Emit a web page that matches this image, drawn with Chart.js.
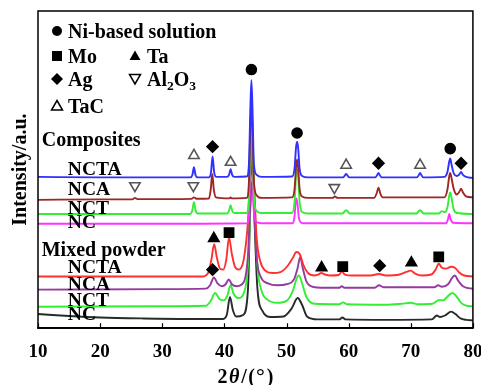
<!DOCTYPE html>
<html><head><meta charset="utf-8">
<script src="https://cdn.jsdelivr.net/npm/chart.js@4.4.0/dist/chart.umd.min.js"></script>
<style>html,body{margin:0;padding:0;background:#fff}#wrap{width:481px;height:385px}</style>
</head><body><div id="wrap"><canvas id="c" width="481" height="385"></canvas></div>
<script>
// ---- data (2theta in degrees, intensity in a.u. with stacking offsets) ----
const xTicks = [10,20,30,40,50,60,70,80];

const compNCTA = [[10,155],[20,154.5],[30,154.5],[34.5,154.5],[34.85,157],[35.1,165],[35.35,157],[35.7,154.5],[37.5,154.5],[37.85,160],[38.1,176],[38.35,160],[38.7,155],[40.4,155],[40.75,157],[41.0,163],[41.25,157],[41.6,155],[43.6,155.5],[43.95,168],[44.18,225],[44.35,254],[44.52,225],[44.75,168],[45.2,157],[46,155],[50.9,155.5],[51.3,164],[51.53,185],[51.7,191],[51.87,185],[52.1,164],[52.5,156],[53.5,154.5],[59.1,154.5],[59.4,156.5],[59.6,158],[59.8,156.5],[60.1,154.5],[64.3,154.5],[64.6,157],[64.8,159],[65.0,157],[65.3,154.5],[71.0,154.5],[71.3,157],[71.5,159],[71.7,157],[72.0,154.5],[75.4,155],[75.9,160],[76.2,171],[76.35,174],[76.55,168],[76.9,159],[77.4,156],[77.8,157.5],[78.1,160],[78.4,157],[78.9,155],[80,154]];
const compNCA = [[10,131.5],[20,132],[25.2,132],[25.6,133.5],[26.0,132.2],[34.7,132.5],[35.1,134],[35.5,132.6],[37.5,132.8],[37.8,142],[38.05,158],[38.3,142],[38.65,134],[40.8,133],[41.0,134],[41.2,133],[43.6,133.5],[43.95,150],[44.18,205],[44.35,229],[44.52,205],[44.75,150],[45.2,136],[46,133.5],[50.9,134],[51.3,143],[51.53,165],[51.7,173],[51.87,165],[52.1,143],[52.5,135],[53.5,133.5],[57.4,133.5],[57.8,135],[58.2,133.5],[64.1,133.5],[64.5,138],[64.8,144],[65.1,138],[65.5,134],[75.4,134],[75.9,142],[76.2,156],[76.35,159],[76.55,154],[76.9,143],[77.4,137],[77.8,139.5],[78.1,143],[78.4,139],[78.9,135],[80,134]];
const compNCT = [[10,117],[20,117],[34.5,117],[34.85,121],[35.1,129],[35.35,121],[35.7,117.5],[40.4,117.5],[40.75,120.5],[41.0,126],[41.25,120.5],[41.6,118],[43.6,118],[43.95,135],[44.18,190],[44.35,211],[44.52,190],[44.75,135],[45.2,120],[46,118],[50.9,118],[51.3,130],[51.53,156],[51.7,163],[51.87,156],[52.1,130],[52.5,119],[53.5,117.5],[59.0,117.5],[59.35,119.5],[59.6,121],[59.85,119.5],[60.2,117.5],[70.9,117.5],[71.25,119.5],[71.5,121],[71.75,119.5],[72.1,117.5],[74.5,117.5],[75.0,120],[75.5,119],[75.9,124],[76.2,136],[76.35,139],[76.55,134],[76.9,122],[77.5,118],[80,117]];
const compNC = [[10,107],[30,107],[43.7,107.5],[44.0,125],[44.17,175],[44.3,196],[44.47,175],[44.7,125],[45.1,109],[46,107.5],[51.0,107.5],[51.3,115],[51.48,130],[51.6,133],[51.77,127],[52.0,113],[52.4,108],[53,107.5],[75.7,107.5],[76.0,112],[76.2,117],[76.4,112],[76.8,108],[80,107.5]];

const mixNCTA = [[10,53],[20,53],[30,53],[36.5,53],[37.4,57],[37.9,70],[38.35,86],[38.8,72],[39.3,61],[39.8,60],[40.3,70],[40.75,93],[41.2,76],[41.7,63],[42.3,60],[43.1,70],[43.8,110],[44.2,165],[44.45,186],[44.75,150],[45.2,92],[45.8,68],[46.6,59],[47.8,56.5],[49,57.5],[50.2,64],[51.0,72],[51.6,78],[52.2,75],[52.7,65],[53.4,57],[54.5,54],[55.1,55],[55.6,56.5],[56.2,55],[57,54],[58.4,54.5],[58.9,58],[59.4,55],[60.5,54],[63.5,54],[64.9,55.5],[66,54],[68.2,55],[69.4,58],[70.0,59],[70.7,56],[71.8,54],[73.3,55],[74.0,60],[74.5,66],[75.0,62],[75.7,61],[76.5,63],[77.1,62],[77.8,57],[78.6,54],[80,53]];
const mixNCA = [[10,39.5],[30,40],[37,40.5],[37.7,44],[38.3,52],[38.9,46],[39.6,43],[40.2,45],[40.7,50],[41.2,45],[42,43],[43.1,47],[43.8,75],[44.2,130],[44.45,150],[44.75,125],[45.2,72],[45.9,52],[47,46],[48.5,44],[50,45],[51.2,50],[51.8,62],[52.2,73],[52.6,62],[53.2,48],[54.2,42.5],[56,41.5],[58.5,41.5],[58.9,43],[59.3,41.5],[64.2,41.5],[64.9,44],[65.6,42],[73.8,42],[74.4,44],[75,42.5],[76,45],[76.7,52],[77.1,54],[77.6,49],[78.4,43],[79.3,41],[80,40.5]];
const mixNCT = [[10,22],[30,22.5],[37,23],[37.8,28],[38.5,36],[39.2,30],[39.9,28.5],[40.5,34],[41.0,44],[41.5,35],[42.2,31],[43.2,37],[43.8,65],[44.3,140],[44.55,160],[44.85,130],[45.3,65],[46,38],[47,29],[48.5,26],[50,28],[51,38],[51.7,52],[52.0,54],[52.5,46],[53.2,32],[54.5,25],[58.5,24.5],[59.1,26.5],[59.7,24.5],[66,24],[68.5,25],[70,26],[71.2,24.5],[73.5,25],[74.6,29],[75.2,28.5],[76.0,33],[76.7,36],[77.3,33],[78.1,26],[79,23],[80,22.5]];
const mixNC = [[10,14.5],[15,12.5],[20,11],[27,10],[34,9.5],[39.8,9.5],[40.4,14],[40.9,32],[41.35,19],[41.9,12],[43,13.5],[43.8,40],[44.25,150],[44.5,178],[44.8,120],[45.3,42],[46.1,18],[47.5,11.5],[49.5,12],[50.8,20],[51.8,31],[52.5,24],[53.3,12],[55,9],[58.5,9],[59.0,11],[59.5,9],[66,8.5],[73.4,9],[74.2,13],[74.7,11.5],[75.5,13],[76.5,17],[77.2,14.5],[78,10],[79,8.5],[80,8]];

// phase marker positions [2theta, a.u.]
const niMarks = [[44.35,265],[51.7,200],[76.35,184]];
const agMarks = [[38.1,186],[64.8,169],[78.1,169],[38.1,60],[65.0,64]];
const tacMarks = [[35.1,177],[41.0,170],[59.6,167],[71.5,167]];
const al2o3Marks = [[25.6,146],[35.0,146],[57.7,144]];
const moMarks = [[40.75,98],[59.05,63],[74.5,73]];
const taMarks = [[38.3,92],[55.65,62],[70.1,67]];

// text annotations
const groupTitles = ['Composites','Mixed powder'];
const groupTitleY = [193, 81];
const curveNames = ['NCTA','NCA','NCT','NC','NCTA','NCA','NCT','NC'];
const curveNameY = [164, 143, 124, 109, 63, 46, 30, 15];
const legendNames = ['Ni-based solution','Mo','Ta','Ag','Al2O3','TaC'];

const SERIF = '"Liberation Serif","Times New Roman",serif';

function lineDs(data, color, order){
  return {type:'line', data, borderColor:color, borderWidth:1.9, pointRadius:0, fill:false,
          cubicInterpolationMode:'monotone', order};
}
function markDs(data, style, fill, stroke, radius, rot){
  return {type:'scatter', data, pointStyle:style, pointRadius:radius, pointHoverRadius:radius,
          pointBackgroundColor:fill, pointBorderColor:stroke, pointBorderWidth:1.6,
          pointRotation:rot||0, showLine:false, order:-1};
}

function drawSym(ctx, kind, x, y, color){
  ctx.save();
  ctx.lineWidth = 1.5; ctx.strokeStyle = color; ctx.fillStyle = color;
  ctx.beginPath();
  if (kind==='circle'){ ctx.arc(x,y,5,0,Math.PI*2); ctx.fill(); }
  else if (kind==='rect'){ ctx.rect(x-5,y-5,10,10); ctx.fill(); }
  else if (kind==='triangle'){ ctx.moveTo(x,y-5.5); ctx.lineTo(x+5.5,y+4); ctx.lineTo(x-5.5,y+4); ctx.closePath(); ctx.fill(); }
  else if (kind==='rectRot'){ ctx.moveTo(x,y-6); ctx.lineTo(x+6,y); ctx.lineTo(x,y+6); ctx.lineTo(x-6,y); ctx.closePath(); ctx.fill(); }
  else if (kind==='triDown'){ ctx.moveTo(x-5.5,y-4.5); ctx.lineTo(x+5.5,y-4.5); ctx.lineTo(x,y+5); ctx.closePath(); ctx.stroke(); }
  else if (kind==='triOpen'){ ctx.moveTo(x,y-5.5); ctx.lineTo(x+5.5,y+4); ctx.lineTo(x-5.5,y+4); ctx.closePath(); ctx.stroke(); }
  ctx.restore();
}

const deco = {
  id:'deco',
  afterDatasetsDraw(chart){
    const {ctx, chartArea:a, scales:{x,y}} = chart;
    ctx.save();
    ctx.strokeStyle='#000'; ctx.lineWidth=1.5;
    ctx.strokeRect(a.left, a.top, a.right-a.left, a.bottom-a.top);
    ctx.beginPath();
    x.ticks.forEach(t=>{ const px=Math.round(x.getPixelForValue(t.value))+0.5; ctx.moveTo(px,a.bottom); ctx.lineTo(px,a.bottom-5); });
    ctx.lineWidth=1.2; ctx.stroke();

    ctx.fillStyle='#000';
    ctx.textBaseline='alphabetic'; ctx.textAlign='left';
    const capOff = 6.6;
    ctx.font='bold 20px '+SERIF;
    groupTitles.forEach((t,i)=>ctx.fillText(t, x.getPixelForValue(10.6), y.getPixelForValue(groupTitleY[i])+capOff));
    ctx.font='bold 19.5px '+SERIF;
    curveNames.forEach((t,i)=>ctx.fillText(t, x.getPixelForValue(14.8), y.getPixelForValue(curveNameY[i])+capOff));

    // legend
    const L = a.left, T = a.top;
    const rows = [T+20, T+45, T+68, T+95];
    const items = [
      {k:'circle', c:0, r:0}, {k:'rect', c:0, r:1}, {k:'triangle', c:1, r:1},
      {k:'rectRot', c:0, r:2}, {k:'triDown', c:1, r:2}, {k:'triOpen', c:0, r:3}
    ];
    const LF = 'bold 20px '+SERIF, SF = 'bold 13.5px '+SERIF;
    items.forEach((it,i)=>{
      const sx = it.c===0 ? L+19 : L+97;
      const tx = it.c===0 ? L+30 : L+109;
      const cy = rows[it.r];
      drawSym(ctx, it.k, sx, cy, '#000');
      const name = legendNames[i];
      ctx.font = LF;
      if (name==='Al2O3'){
        let px = tx;
        ctx.font=LF; ctx.fillText('Al',px,cy+capOff); px+=ctx.measureText('Al').width;
        ctx.font=SF; ctx.fillText('2',px,cy+capOff+4); px+=ctx.measureText('2').width;
        ctx.font=LF; ctx.fillText('O',px,cy+capOff); px+=ctx.measureText('O').width;
        ctx.font=SF; ctx.fillText('3',px,cy+capOff+4);
      } else {
        ctx.fillText(name, tx, cy+capOff);
      }
    });

    // x title 2θ/(°)
    const parts = [['2','bold 20px '+SERIF,1.5],['θ','italic bold 20px '+SERIF,2],['/','bold 20px '+SERIF,1.5],['(','bold 20px '+SERIF,1],['°','bold 22px '+SERIF,2],[')','bold 20px '+SERIF,0]];
    let w=0; parts.forEach(p=>{ctx.font=p[1]; w+=ctx.measureText(p[0]).width+p[2];});
    let px = (a.left+a.right)/2 - 10 - w/2;
    parts.forEach(p=>{ctx.font=p[1]; ctx.fillText(p[0],px,383); px+=ctx.measureText(p[0]).width+p[2];});

    // y title
    ctx.save();
    ctx.translate(25.5,(a.top+a.bottom)/2);
    ctx.rotate(-Math.PI/2);
    ctx.font='bold 20px '+SERIF; ctx.textAlign='center';
    ctx.fillText('Intensity/a.u.',0,0);
    ctx.restore();
    ctx.restore();
  }
};

new Chart(document.getElementById('c'), {
  data:{ datasets:[
    lineDs(compNCTA,'#3030ff',1),
    lineDs(compNCA,'#9e2626',2),
    lineDs(compNCT,'#33ee33',3),
    lineDs(compNC,'#ff33ff',4),
    lineDs(mixNCTA,'#ff3030',5),
    lineDs(mixNCA,'#953a9e',6),
    lineDs(mixNCT,'#33ee33',7),
    lineDs(mixNC,'#2a2a2a',8),
    markDs(niMarks,'circle','#000','#000',5),
    markDs(agMarks,'rectRot','#000','#000',5.5),
    markDs(moMarks,'rect','#000','#000',6.5),
    markDs(taMarks,'triangle','#000','#000',6),
    markDs(tacMarks,'triangle','#fff','#555',6),
    markDs(al2o3Marks,'triangle','#fff','#555',6,180)
  ]},
  options:{
    responsive:false, animation:false, events:[],
    layout:{padding:{left:38,right:8,top:11,bottom:18}},
    plugins:{legend:{display:false}, tooltip:{enabled:false}},
    scales:{
      x:{type:'linear', min:10, max:80,
         afterBuildTicks:(s)=>{ s.ticks = xTicks.map(v=>({value:v})); },
         afterFit:(s)=>{ s.paddingLeft=0; s.paddingRight=0; },
         ticks:{font:{family:SERIF, size:19, weight:'bold'}, color:'#000', padding:4, maxRotation:0},
         grid:{display:false}, border:{display:true, color:'#000', width:1.5}},
      y:{type:'linear', min:0, max:325, display:false}
    }
  },
  plugins:[deco]
});
</script></body></html>
